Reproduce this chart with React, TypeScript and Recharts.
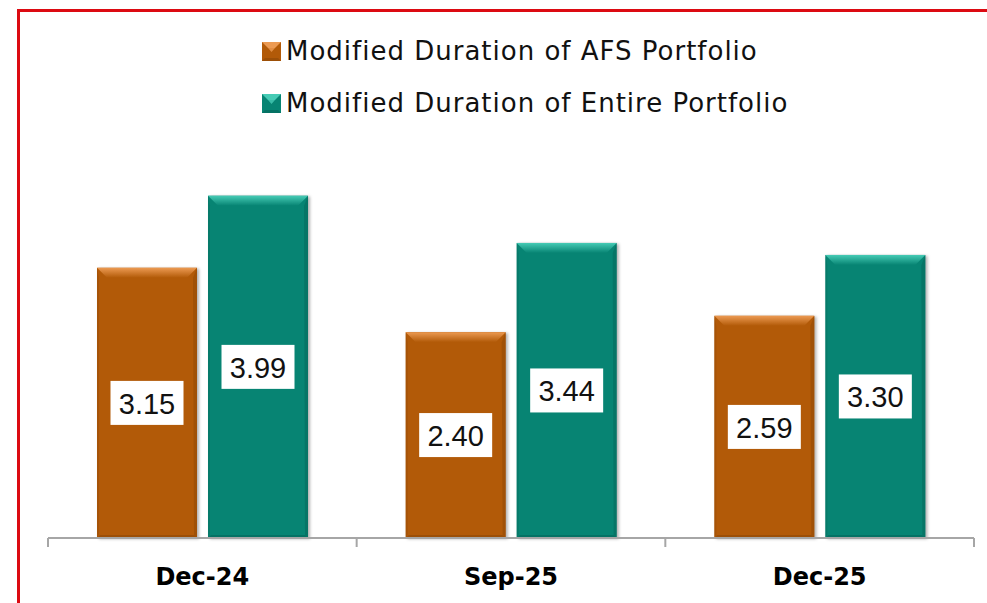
import React from "react";
import { BarChart, Bar, XAxis, YAxis, LabelList } from "recharts";

const categories = ["Dec-24", "Sep-25", "Dec-25"];
const afsDuration = [3.15, 2.4, 2.59];
const entireDuration = [3.99, 3.44, 3.3];
const seriesNames = [
  "Modified Duration of AFS Portfolio",
  "Modified Duration of Entire Portfolio",
];

const data = categories.map((c, i) => ({
  name: c,
  afs: afsDuration[i],
  entire: entireDuration[i],
}));

const palette = {
  afs: { id: "afs", base: "#B25A08", light: "#EC9A52", dark: "#8E4706" },
  entire: { id: "entire", base: "#078473", light: "#46CBB5", dark: "#05665A" },
};

const W = 987;
const H = 603;
const M = { top: 152, right: 13, bottom: 0, left: 48 };
const BAND = (W - M.left - M.right) / categories.length;

type Colors = { id: string; base: string; light: string; dark: string };

function bevelShape(colors: Colors) {
  return (props: any) => {
    const { x, y, width: w, height: h } = props;
    if (!h || h <= 0) return <g />;
    const b = 10;
    return (
      <g style={{ filter: "drop-shadow(2px 1px 1.5px rgba(0,0,0,0.3))" }}>
        <rect x={x} y={y} width={w} height={h} fill={colors.base} />
        <polygon
          points={`${x},${y} ${x + w},${y} ${x + w - b},${y + b} ${x + b},${y + b}`}
          fill={`url(#top-${colors.id})`}
        />
        <polygon
          points={`${x + w},${y} ${x + w},${y + h} ${x + w - 3},${y + h - 3} ${x + w - 4},${y + b}`}
          fill={colors.dark}
          opacity={0.5}
        />
        <polygon
          points={`${x},${y} ${x + 2},${y + b} ${x + 2},${y + h - 3} ${x},${y + h}`}
          fill={colors.dark}
          opacity={0.35}
        />
        <polygon
          points={`${x},${y + h} ${x + w},${y + h} ${x + w - 3},${y + h - 3} ${x + 3},${y + h - 3}`}
          fill={colors.dark}
          opacity={0.6}
        />
      </g>
    );
  };
}

const ValueBox = (props: any) => {
  const { x, y, width, height, value } = props;
  const cx = x + width / 2;
  const cy = y + height / 2;
  const bw = 73;
  const bh = 44;
  return (
    <g>
      <rect x={cx - bw / 2} y={cy - bh / 2} width={bw} height={bh} fill="#FFFFFF" />
      <text
        x={cx}
        y={cy + 1}
        textAnchor="middle"
        dominantBaseline="central"
        fontFamily="'Liberation Sans', Arial, sans-serif"
        fontSize={29}
        fill="#111111"
      >
        {Number(value).toFixed(2)}
      </text>
    </g>
  );
};

const CategoryTick = (props: any) => {
  const { x, y, payload, index } = props;
  const left = x - BAND / 2;
  const right = x + BAND / 2;
  return (
    <g>
      <line x1={left} y1={y} x2={left} y2={y + 9} stroke="#A6A6A6" strokeWidth={2} />
      {index === categories.length - 1 && (
        <line x1={right} y1={y} x2={right} y2={y + 9} stroke="#A6A6A6" strokeWidth={2} />
      )}
      <text
        x={x}
        y={y + 47}
        textAnchor="middle"
        fontFamily="'DejaVu Sans', Verdana, sans-serif"
        fontWeight="bold"
        fontSize={24}
        fill="#000000"
      >
        {payload.value}
      </text>
    </g>
  );
};

const LegendMarker = ({ colors }: { colors: Colors }) => (
  <svg width={19} height={19} style={{ display: "block" }}>
    <rect x={0} y={0} width={19} height={19} fill={colors.base} />
    <polygon points="0,0 19,0 13,6 6,6" fill={colors.light} />
    <polygon points="6,6 13,6 9.5,10" fill={colors.light} opacity={0.8} />
    <polygon points="0,19 19,19 16,16 3,16" fill={colors.dark} opacity={0.6} />
  </svg>
);

export default function App() {
  const legendItems = [
    { name: seriesNames[0], colors: palette.afs, top: 40 },
    { name: seriesNames[1], colors: palette.entire, top: 92 },
  ];
  return (
    <div
      style={{
        position: "absolute",
        left: 0,
        top: 0,
        width: W,
        height: H,
        background: "#FFFFFF",
        overflow: "hidden",
      }}
    >
      <div
        style={{
          position: "absolute",
          left: 17,
          top: 9,
          width: W,
          height: H,
          borderLeft: "3px solid #DC0A12",
          borderTop: "3px solid #DC0A12",
        }}
      />
      {legendItems.map((it) => (
        <div
          key={it.name}
          style={{
            position: "absolute",
            left: 262,
            top: it.top,
            display: "flex",
            alignItems: "center",
            fontFamily: "'DejaVu Sans', sans-serif",
            fontSize: 26,
            letterSpacing: 1,
            color: "#111111",
            lineHeight: "22px",
            whiteSpace: "nowrap",
          }}
        >
          <LegendMarker colors={it.colors} />
          <span style={{ marginLeft: 5 }}>{it.name}</span>
        </div>
      ))}
      <div style={{ position: "absolute", left: 0, top: 0 }}>
        <BarChart
          width={W}
          height={H}
          data={data}
          margin={M}
          barSize={100}
          barGap={11}
        >
          <defs>
            {[palette.afs, palette.entire].map((c) => (
              <linearGradient key={c.id} id={`top-${c.id}`} x1="0" y1="0" x2="0" y2="1">
                <stop offset="0%" stopColor={c.light} />
                <stop offset="100%" stopColor={c.base} />
              </linearGradient>
            ))}
          </defs>
          <XAxis
            dataKey="name"
            height={65}
            axisLine={{ stroke: "#A6A6A6", strokeWidth: 2 }}
            tickLine={false}
            tickSize={0}
            tickMargin={0}
            interval={0}
            tick={<CategoryTick />}
          />
          <YAxis hide domain={[0, 4.5]} />
          <Bar
            dataKey="afs"
            name={seriesNames[0]}
            fill={palette.afs.base}
            shape={bevelShape(palette.afs)}
            isAnimationActive={false}
          >
            <LabelList dataKey="afs" content={<ValueBox />} />
          </Bar>
          <Bar
            dataKey="entire"
            name={seriesNames[1]}
            fill={palette.entire.base}
            shape={bevelShape(palette.entire)}
            isAnimationActive={false}
          >
            <LabelList dataKey="entire" content={<ValueBox />} />
          </Bar>
        </BarChart>
      </div>
    </div>
  );
}
